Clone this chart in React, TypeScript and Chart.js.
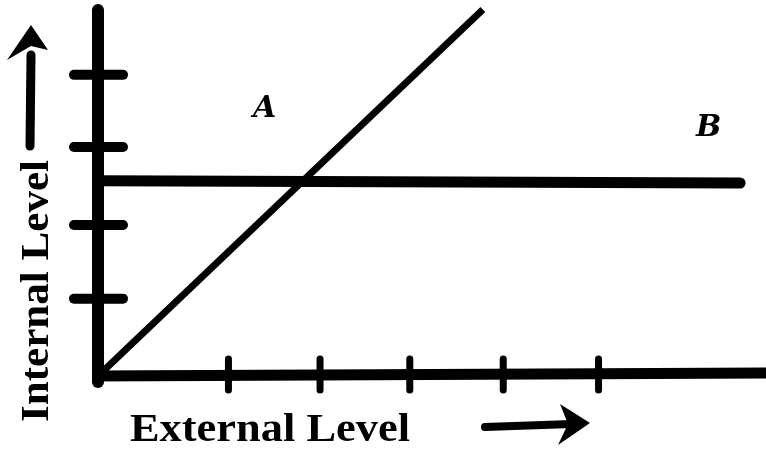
import React, { useEffect, useRef } from "react";
import { Chart, registerables } from "chart.js";

Chart.register(...registerables);

// Data (scale units)
const xTickValues = [1.41, 2.4, 3.37, 4.38, 5.41];
const yTickValues = [1.03, 2.01, 3.05, 4.01];
const lineAx = [0, 4.16];
const lineAy = [0, 4.88];
const lineBx = [0, 6.94];
const lineBy = [2.6, 2.57];
const xTitle = "External Level";
const yTitle = "Internal Level";
const labelA = { text: "A", x: 1.8, y: 3.55 };
const labelB = { text: "B", x: 6.6, y: 3.3 };

function stretchedText(ctx: any, text: string, x: number, y: number, w: number) {
  const m = ctx.measureText(text).width;
  ctx.save();
  ctx.translate(x, y);
  ctx.scale(w / m, 1);
  ctx.fillText(text, 0, 0);
  ctx.restore();
}

const axesPlugin = {
  id: "handAxes",
  afterDraw(chart: any) {
    const { ctx } = chart;
    const xs = chart.scales.x;
    const ys = chart.scales.y;
    const x0 = xs.getPixelForValue(0);
    const y0 = ys.getPixelForValue(0);
    ctx.save();
    ctx.strokeStyle = "#000";
    ctx.fillStyle = "#000";
    ctx.lineCap = "round";
    // y axis
    ctx.lineWidth = 12;
    ctx.beginPath();
    ctx.moveTo(x0, ys.getPixelForValue(ys.max) + 2);
    ctx.lineTo(x0, y0 + 6);
    ctx.stroke();
    // x axis
    ctx.lineWidth = 11;
    ctx.lineCap = "butt";
    ctx.beginPath();
    ctx.moveTo(x0 - 6, y0);
    ctx.lineTo(xs.getPixelForValue(xs.max), y0 - 3);
    ctx.stroke();
    ctx.lineCap = "round";
    // y ticks
    ctx.lineWidth = 10;
    yTickValues.forEach((v) => {
      const py = ys.getPixelForValue(v);
      ctx.beginPath();
      ctx.moveTo(x0 - 24, py);
      ctx.lineTo(x0 + 25, py);
      ctx.stroke();
    });
    // x ticks
    ctx.lineWidth = 7;
    xTickValues.forEach((v) => {
      const px = xs.getPixelForValue(v);
      ctx.beginPath();
      ctx.moveTo(px, y0 - 17);
      ctx.lineTo(px, y0 + 14);
      ctx.stroke();
    });
    // Labels A, B
    ctx.font = "italic bold 30px 'DejaVu Serif'";
    ctx.textAlign = "center";
    ctx.textBaseline = "middle";
    ctx.fillText(labelA.text, xs.getPixelForValue(labelA.x), ys.getPixelForValue(labelA.y));
    ctx.fillText(labelB.text, xs.getPixelForValue(labelB.x), ys.getPixelForValue(labelB.y));
    // x title
    ctx.font = "bold 40px 'Liberation Serif'";
    ctx.textAlign = "left";
    ctx.textBaseline = "alphabetic";
    stretchedText(ctx, xTitle, 130, 441, 280);
    // right arrow
    ctx.lineWidth = 8;
    ctx.beginPath();
    ctx.moveTo(485, 427);
    ctx.lineTo(572, 424);
    ctx.stroke();
    ctx.beginPath();
    ctx.moveTo(590, 423);
    ctx.lineTo(560, 404);
    ctx.lineTo(568, 424);
    ctx.lineTo(558, 445);
    ctx.closePath();
    ctx.fill();
    // y title
    ctx.save();
    ctx.translate(48, 422);
    ctx.rotate(-Math.PI / 2);
    ctx.font = "bold 40px 'Liberation Serif'";
    ctx.textAlign = "left";
    stretchedText(ctx, yTitle, 0, 0, 262);
    ctx.restore();
    // up arrow
    ctx.lineWidth = 9;
    ctx.beginPath();
    ctx.moveTo(30, 146);
    ctx.lineTo(31, 55);
    ctx.stroke();
    ctx.beginPath();
    ctx.moveTo(31, 25);
    ctx.lineTo(48, 50);
    ctx.lineTo(31, 46);
    ctx.lineTo(7, 60);
    ctx.closePath();
    ctx.fill();
    ctx.restore();
  },
};

export default function App() {
  const ref = useRef<HTMLCanvasElement>(null);
  useEffect(() => {
    document.body.style.margin = "0";
    const chart = new Chart(ref.current as HTMLCanvasElement, {
      type: "scatter",
      data: {
        datasets: [
          {
            label: "A",
            data: lineAx.map((x, i) => ({ x, y: lineAy[i] })),
            showLine: true,
            borderColor: "#000",
            borderWidth: 7,
            pointRadius: 0,
            clip: false as any,
          },
          {
            label: "B",
            data: lineBx.map((x, i) => ({ x, y: lineBy[i] })),
            showLine: true,
            borderColor: "#000",
            borderWidth: 11,
            borderCapStyle: "round",
            pointRadius: 0,
            clip: false as any,
          },
        ],
      },
      options: {
        animation: false,
        responsive: false,
        layout: { padding: { left: 98, right: 0, top: 8, bottom: 74 } },
        plugins: { legend: { display: false }, tooltip: { enabled: false } },
        scales: {
          x: { type: "linear", display: false, min: 0, max: 7.22 },
          y: { type: "linear", display: false, min: 0, max: 4.9 },
        },
      },
      plugins: [axesPlugin],
    });
    return () => chart.destroy();
  }, []);
  return <canvas ref={ref} width={766} height={450} style={{ display: "block" }} />;
}
